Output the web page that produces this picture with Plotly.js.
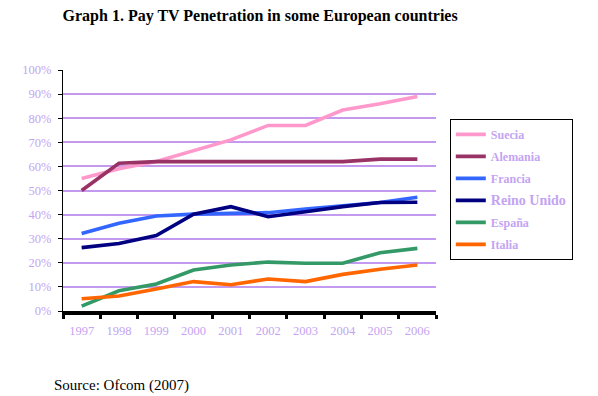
<!DOCTYPE html>
<html><head><meta charset="utf-8">
<script src="https://cdn.plot.ly/plotly-3.0.1.min.js"></script>
<style>html,body{margin:0;padding:0;background:#fff;}#chart{width:598px;height:396px;}</style>
</head><body><div id="chart"></div>
<script>
const years = ["1997","1998","1999","2000","2001","2002","2003","2004","2005","2006"];
const suecia     = [55, 59, 62, 66.5, 71, 77, 77, 83.4, 86, 89];
const alemania   = [50, 61.3, 62, 62, 62, 62, 62, 62, 63, 63];
const francia    = [32.2, 36.4, 39.4, 40.2, 40.5, 40.8, 42.3, 43.5, 45, 47.2];
const reinoUnido = [26.3, 28, 31.3, 40.2, 43.3, 39.1, 41.2, 43.3, 45, 45.1];
const espana     = [2, 8.4, 11.2, 17, 19.1, 20.3, 19.8, 19.8, 24.2, 26];
const italia     = [5.1, 6.2, 9.1, 12.2, 10.9, 13.3, 12.2, 15.2, 17.3, 19.1];
const seriesNames = ["Suecia","Alemania","Francia","Reino Unido","España","Italia"];
const seriesData = [suecia, alemania, francia, reinoUnido, espana, italia];
const seriesColors = ["#ff99cc","#993366","#3366ff","#000080","#339966","#ff6600"];
const yTicks = [0,10,20,30,40,50,60,70,80,90,100];
const yTickText = yTicks.map(v => v + "%");
const gridVals = [10,20,30,40,50,60,70,80,90];

const lav = "#c4a4f2";
const serif = "Liberation Serif";

const traces = seriesNames.map((n,i)=>({
  type:"scatter", mode:"lines", x:years, y:seriesData[i],
  name: n === "Reino Unido" ? '<span style="font-size:14px">'+n+'</span>' : n,
  legendgroup:"g"+i,
  line:{color:seriesColors[i], width:3.6}, hoverinfo:"skip"
}));

const layout = {
  width:598, height:396,
  margin:{l:63, r:162, t:70, b:85},
  paper_bgcolor:"#fff", plot_bgcolor:"#fff",
  showlegend:true,
  legend:{x:1.037, xanchor:"left", y:0.797, yanchor:"top",
    bordercolor:"#000", borderwidth:1, bgcolor:"#fff",
    tracegroupgap:3, traceorder:"grouped",
    font:{family:serif, size:12, color:lav, weight:"bold"}, itemwidth:30},
  xaxis:{type:"category", range:[-0.5,9.5], showline:true, linecolor:"#000", linewidth:4,
    ticks:"outside", tickson:"boundaries", ticklen:4, tickwidth:3, tickcolor:"#000",
    showgrid:false, zeroline:false, ticklabelstandoff:5,
    tickfont:{family:serif, size:12.5, color:lav}, fixedrange:true},
  yaxis:{range:[0,100], tickmode:"array", tickvals:yTicks, ticktext:yTickText, showline:true, linecolor:"#000", linewidth:1,
    ticks:"outside", ticklen:4, tickcolor:"#000", showgrid:false, zeroline:false, ticklabelstandoff:4,
    minor:{tickvals:gridVals, showgrid:true, gridcolor:"#c49af0", gridwidth:2, ticks:""},
    tickfont:{family:serif, size:12.5, color:lav}, fixedrange:true},
  title:{text:"Graph 1. Pay TV Penetration in some European countries",
    font:{family:serif, size:16, color:"#000", weight:"bold"}, x:0.435, xanchor:"center", y:0.962, yanchor:"middle"},
  annotations:[{text:"Source: Ofcom (2007)", xref:"paper", yref:"paper", x:-0.03, y:-0.31,
    xanchor:"left", yanchor:"middle", showarrow:false, font:{family:serif, size:15, color:"#000"}}]
};
Plotly.newPlot("chart", traces, layout, {displayModeBar:false, staticPlot:true});
</script></body></html>
